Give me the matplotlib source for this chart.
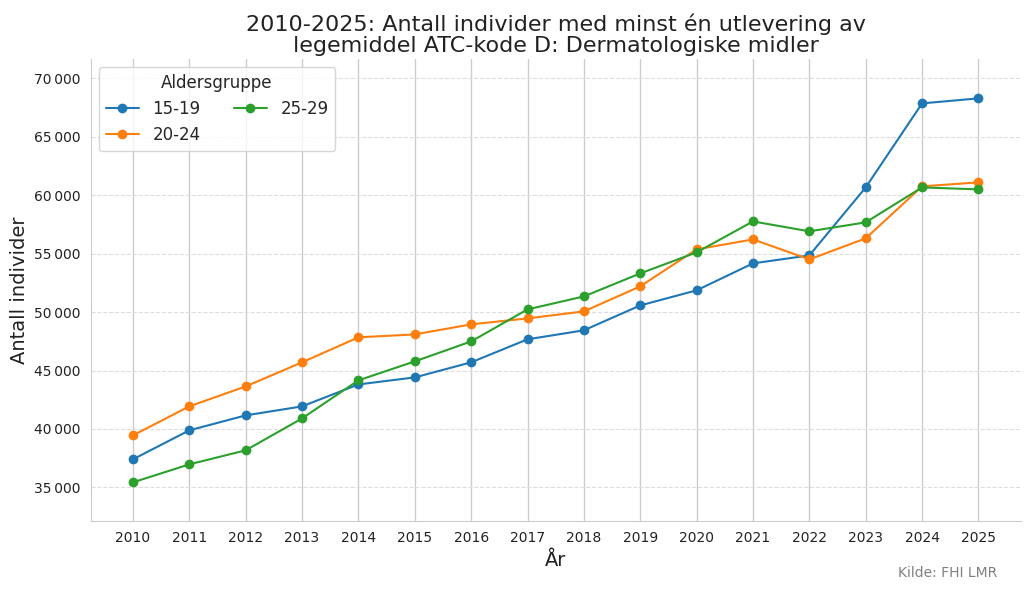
import matplotlib
matplotlib.use('Agg')
import matplotlib.pyplot as plt
import seaborn as sns
from matplotlib.ticker import FuncFormatter

years = list(range(2010, 2026))
groups = ["15-19", "20-24", "25-29"]

v_15_19 = [37400, 39880, 41160, 41930, 43810, 44410, 45700, 47670,
           48440, 50570, 51860, 54170, 54850, 60670, 67860, 68290]
v_20_24 = [39450, 41930, 43640, 45700, 47840, 48090, 48950, 49460,
           50060, 52200, 55370, 56220, 54510, 56310, 60760, 61100]
v_25_29 = [35430, 36970, 38170, 40900, 44160, 45780, 47490, 50230,
           51340, 53310, 55110, 57760, 56910, 57680, 60670, 60500]

series = [v_15_19, v_20_24, v_25_29]
colors = ["#1f77b4", "#ff7f0e", "#2ca02c"]

sns.set_style("whitegrid")
plt.rcParams['font.family'] = ['DejaVu Sans']

fig = plt.figure(figsize=(10.3, 5.91), dpi=100)
ax = fig.add_axes([0.088, 0.118, 0.903, 0.783])

for name, vals, c in zip(groups, series, colors):
    ax.plot(years, vals, marker='o', markersize=6, linewidth=1.5, color=c, label=name)

ax.set_xlim(2009.25, 2025.75)
ax.set_ylim(32100, 71700)
ax.set_xticks(years)
ax.set_yticks(range(35000, 70001, 5000))
ax.yaxis.set_major_formatter(FuncFormatter(lambda v, p: f"{int(v):,}".replace(",", "\u202f")))
ax.tick_params(axis='both', labelsize=10, colors='#222222')

ax.grid(axis='x', color='#cccccc', linewidth=1, linestyle='-')
ax.grid(axis='y', color='#dddddd', linewidth=0.8, linestyle='--')
for s in ['top', 'right']:
    ax.spines[s].set_visible(False)
for s in ['left', 'bottom']:
    ax.spines[s].set_color('#cccccc')

ax.set_title("2010-2025: Antall individer med minst én utlevering av\nlegemiddel ATC-kode D: Dermatologiske midler",
             fontsize=16, color='#222222', linespacing=1.05, pad=5)
ax.set_xlabel("År", fontsize=14, color='#222222', labelpad=4)
ax.set_ylabel("Antall individer", fontsize=14, color='#222222')

leg = ax.legend(title="Aldersgruppe", ncol=2, fontsize=12, title_fontsize=12,
                loc='upper left', frameon=True)

fig.text(0.968, 0.03, "Kilde: FHI LMR", ha='right', va='center', fontsize=10, color='gray')

fig.savefig("out.png", dpi=100)
